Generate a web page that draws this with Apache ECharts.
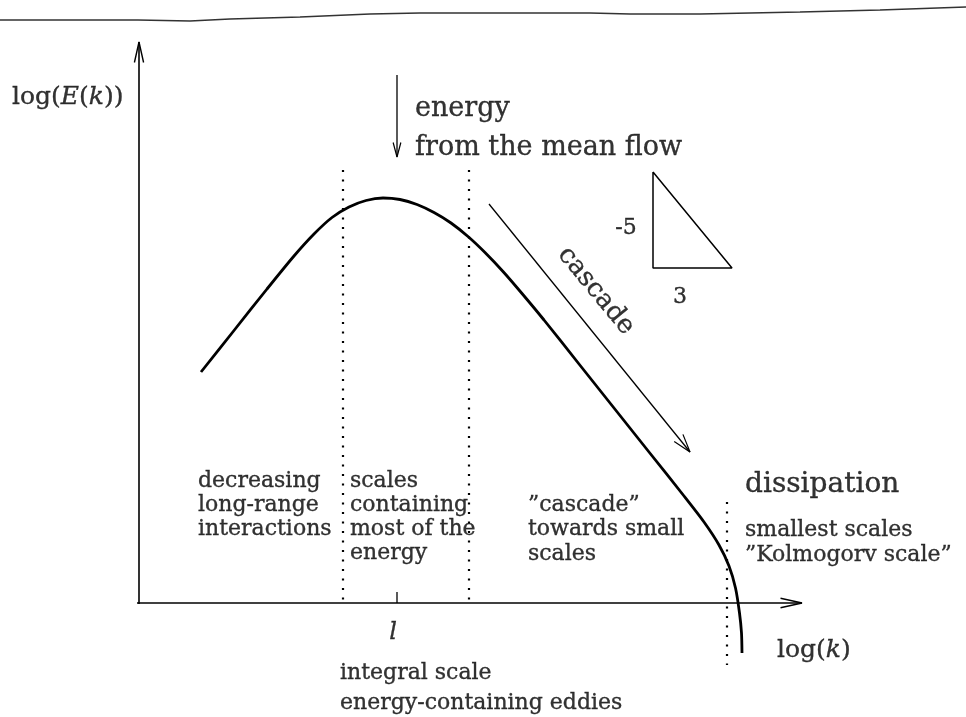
<!DOCTYPE html>
<html>
<head>
<meta charset="utf-8">
<script src="https://cdn.jsdelivr.net/npm/echarts@6/dist/echarts.min.js"></script>
<style>
  html, body { margin: 0; padding: 0; background: #fff; }
  #chart { width: 966px; height: 717px; }
</style>
</head>
<body>
<div id="chart"></div>
<script>
// schematic energy spectrum, values in log(k) / log(E) units (origin at the axes crossing)
const spectrumK = [1.24, 1.90, 2.56, 3.10, 3.50, 3.86, 4.20, 4.54, 4.88, 5.22, 5.56, 5.90, 6.24, 6.58, 6.92, 7.28, 7.66, 8.10, 8.80, 9.50, 10.20, 10.90, 11.30, 11.60, 11.80, 11.93, 12.01, 12.05, 12.06];
const spectrumE = [4.62, 5.45, 6.28, 6.94, 7.38, 7.71, 7.92, 8.05, 8.10, 8.07, 7.97, 7.81, 7.60, 7.33, 7.01, 6.63, 6.19, 5.66, 4.78, 3.90, 3.02, 2.14, 1.62, 1.16, 0.74, 0.30, -0.20, -0.60, -1.00];

// dotted range separators: k position, top and bottom
const dividerK = [4.08, 6.60, 11.76];
const dividerTop = [8.66, 8.66, 2.02];
const dividerBottom = [-0.08, -0.08, -1.24];

// integral scale tick
const integralK = 5.16;

// slope triangle (-5/3)
const triangleK = [10.28, 10.28, 11.86, 10.28];
const triangleE = [8.62, 6.70, 6.70, 8.62];

// arrows: [from, to]
const energyArrow = [[5.16, 10.56], [5.16, 8.92]];
const cascadeArrow = [[7.00, 7.98], [11.02, 3.02]];
const yAxisEnds = [[0, -0.02], [0, 11.22]];
const xAxisEnds = [[-0.04, 0], [13.26, 0]];

// scan edge at the top of the page
const edgeK = [-2.78, -0.02, 1.02, 1.82, 3.22, 4.62, 5.62, 9.02, 9.82, 11.22, 13.22, 14.82, 16.54];
const edgeE = [11.66, 11.66, 11.64, 11.68, 11.72, 11.78, 11.80, 11.80, 11.78, 11.78, 11.82, 11.86, 11.92];

const blockText = {
  decreasing: ['decreasing', 'long-range', 'interactions'],
  containing: ['scales', 'containing', 'most of the', 'energy'],
  cascade: ['\u201dcascade\u201d', 'towards small', 'scales'],
  smallest: ['smallest scales', '\u201dKolmogorv scale\u201d'],
  energy: ['energy', 'from the mean flow']
};

const SERIF = 'DejaVu Serif';
const chart = echarts.init(document.getElementById('chart'));

const zip = (a, b) => a.map((v, i) => [v, b[i]]);

function plain(name, data, width, extra) {
  return Object.assign({
    type: 'line', name: name, data: data, showSymbol: false, symbol: 'none',
    silent: true, animation: false, clip: false,
    lineStyle: { color: '#000', width: width }
  }, extra || {});
}

// open arrow head built from the shaft direction
function head(shaft, len, ang) {
  const [a, b] = shaft;
  const th = Math.atan2(b[1] - a[1], b[0] - a[0]);
  const p1 = [b[0] - len * Math.cos(th - ang), b[1] - len * Math.sin(th - ang)];
  const p2 = [b[0] - len * Math.cos(th + ang), b[1] - len * Math.sin(th + ang)];
  return [p1, b, p2];
}

const ink = { color: '#000', textBorderColor: '#000', textBorderWidth: 0.35 };

function lbl(value, text, opt) {
  return {
    value: value,
    label: Object.assign({
      show: true, formatter: text, position: [0, 0],
      align: 'left', verticalAlign: 'middle',
      fontFamily: SERIF, fontSize: 22
    }, ink, opt || {})
  };
}

const italic = Object.assign({ fontStyle: 'italic', fontFamily: SERIF, fontSize: 25 }, ink);

const labels = [
  lbl([-2.54, 10.12], 'log({i|E}({i|k}))', { fontSize: 25, rich: { i: italic } }),
  lbl([5.52, 10.27], blockText.energy.join('\n'), { fontSize: 27, lineHeight: 39, verticalAlign: 'top' }),
  lbl([9.74, 7.50], '-5', { align: 'center' }),
  lbl([10.82, 6.12], '3', { align: 'center' }),
  lbl([9.14, 6.24], 'cascade', { align: 'center', rotate: -50.5, fontSize: 26 }),
  lbl([1.18, 2.68], blockText.decreasing.join('\n'), { lineHeight: 24, verticalAlign: 'top' }),
  lbl([4.22, 2.68], blockText.containing.join('\n'), { lineHeight: 24, verticalAlign: 'top' }),
  lbl([7.78, 2.20], blockText.cascade.join('\n'), { lineHeight: 24.5, verticalAlign: 'top' }),
  lbl([12.12, 2.36], 'dissipation', { fontSize: 28 }),
  lbl([12.12, 1.71], blockText.smallest.join('\n'), { lineHeight: 25, verticalAlign: 'top' }),
  lbl([12.76, -0.94], 'log({i|k})', { fontSize: 25, rich: { i: italic } }),
  lbl([5.08, -0.60], '{i|l}', { align: 'center', rich: { i: Object.assign({}, italic, { fontSize: 24 }) } }),
  lbl([4.02, -1.40], 'integral scale'),
  lbl([4.02, -2.00], 'energy-containing eddies')
];

const series = [
  plain('edge', zip(edgeK, edgeE), 1.4, { lineStyle: { color: '#333', width: 1.4 } }),
  plain('yAxis', yAxisEnds, 1.6),
  plain('yAxisHead', head(yAxisEnds, 0.42, 0.22), 1.4),
  plain('xAxis', xAxisEnds, 1.6),
  plain('xAxisHead', head(xAxisEnds, 0.44, 0.22), 1.4),
  plain('tick', [[integralK, 0], [integralK, 0.22]], 1.3),
  plain('energyArrow', energyArrow, 1.3),
  plain('energyHead', head(energyArrow, 0.3, 0.26), 1.2),
  plain('cascadeArrow', cascadeArrow, 1.3),
  plain('cascadeHead', head(cascadeArrow, 0.38, 0.3), 1.2),
  plain('triangle', zip(triangleK, triangleE), 1.5)
];

dividerK.forEach((k, i) => {
  series.push(plain('divider' + i, [[k, dividerTop[i]], [k, dividerBottom[i]]], 2.2,
    { lineStyle: { color: '#000', width: 2.2, type: [2, 7.5] } }));
});

series.push(plain('spectrum', zip(spectrumK, spectrumE), 2.8, { smooth: 0.25 }));

series.push({
  type: 'scatter', name: 'notes', symbolSize: 0, silent: true, clip: false,
  data: labels
});

chart.setOption({
  animation: false,
  backgroundColor: '#fff',
  grid: { left: 0, right: 0, top: 0, bottom: 0 },
  xAxis: { type: 'value', min: -2.78, max: 16.54, show: false },
  yAxis: { type: 'value', min: -2.28, max: 12.06, show: false },
  series: series
});
</script>
</body>
</html>
